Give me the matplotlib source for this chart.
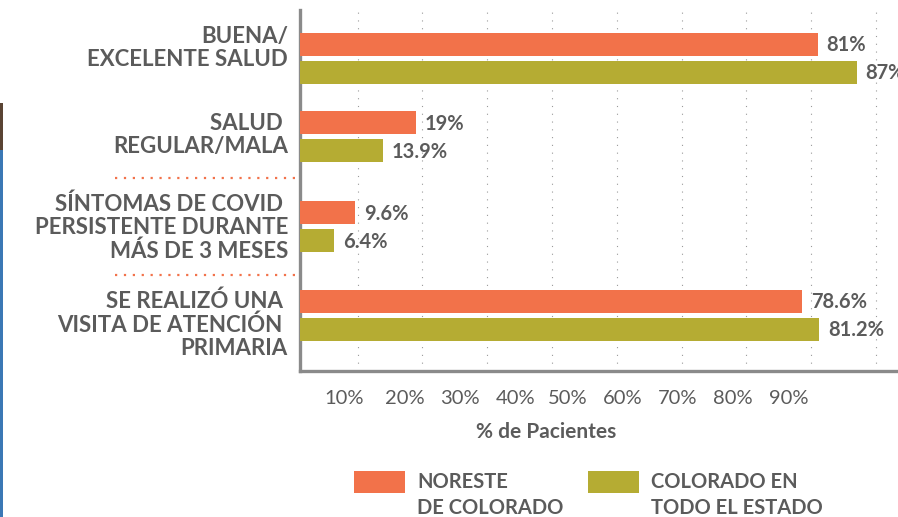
"""Horizontal grouped bars: patient health outcomes, Noreste vs statewide Colorado."""
import matplotlib
matplotlib.use("Agg")
import matplotlib.pyplot as plt
from matplotlib.patches import Rectangle
from matplotlib.lines import Line2D

# --- data -----------------------------------------------------------------
categories = [
    "BUENA/\nEXCELENTE SALUD",
    "SALUD \nREGULAR/MALA",
    "SÍNTOMAS DE COVID \nPERSISTENTE DURANTE\nMÁS DE 3 MESES",
    "SE REALIZÓ UNA \nVISITA DE ATENCIÓN \nPRIMARIA",
]
noreste = [81, 19, 9.6, 78.6]
estado = [87, 13.9, 6.4, 81.2]
noreste_txt = ["81%", "19%", "9.6%", "78.6%"]
estado_txt = ["87%", "13.9%", "6.4%", "81.2%"]
series_names = ["NORESTE\nDE COLORADO", "COLORADO EN\nTODO EL ESTADO"]
grid_vals = [10, 20, 30, 40, 50, 60, 70, 80, 90]
tick_text = ["10%", "20%", "30%", "40%", "50%", "60%", "70%", "80%", "90%"]

# --- style / layout -------------------------------------------------------
ORANGE = "#F2724A"
OLIVE = "#B5AC33"
GREY = "#5b5b5b"
SPINE = "#8a8a8a"
FONT = ["Lato", "DejaVu Sans"]
plt.rcParams["font.family"] = FONT

# the original infographic's tick labels sit left of their gridlines
tick_pos = [7.9, 17.3, 25.8, 34.3, 42.4, 50.9, 59.4, 67.9, 76.5]
group_y = [48.25, 126.5, 216.5, 305]      # pixel-ish units from axes top
label_y = [38, 125, 218, 315]
offset = 14
bar_h = 23

fig = plt.figure(figsize=(8.98, 5.17), dpi=100)
ax = fig.add_axes([300 / 898, 146 / 517, 598 / 898, 361 / 517])

ax.barh([g - offset for g in group_y], noreste, height=bar_h, color=ORANGE, zorder=3)
ax.barh([g + offset for g in group_y], estado, height=bar_h, color=OLIVE, zorder=3)

for g, v, t in zip(group_y, noreste, noreste_txt):
    ax.text(v + 1.4, g - offset + 1, t, ha="left", va="center", fontsize=14.5,
            fontweight="bold", color=GREY, zorder=4)
for g, v, t in zip(group_y, estado, estado_txt):
    ax.text(v + 1.4, g + offset + 1, t, ha="left", va="center", fontsize=14.5,
            fontweight="bold", color=GREY, zorder=4)

ax.set_xlim(1.1, 93.4)
ax.set_ylim(361, 0)

# dotted gridlines on minor ticks, labels on major ticks
ax.set_xticks(grid_vals, minor=True)
ax.set_xticks(tick_pos, tick_text)
ax.grid(which="minor", axis="x", color="#9a9a9a", linewidth=0.8,
        linestyle=(0, (1, 6)), zorder=0)
ax.tick_params(axis="x", which="both", length=0, pad=14, labelsize=14.5,
               labelcolor=GREY)
ax.set_yticks([])
for side in ("top", "right"):
    ax.spines[side].set_visible(False)
for side in ("left", "bottom"):
    ax.spines[side].set_color(SPINE)
    ax.spines[side].set_linewidth(2.4)

ax.set_xlabel("% de Pacientes", fontsize=15, fontweight="bold", color=GREY)
ax.xaxis.set_label_coords((546 - 300) / 598, -(432 - 371) / 361)
ax.xaxis.label.set_va("center")

# category labels, right-aligned left of the spine
for lab, y in zip(categories, label_y):
    ax.text(-12 / 598, y, lab, transform=ax.get_yaxis_transform(), ha="right",
            va="center", multialignment="right", fontsize=16,
            fontweight="bold", color=GREY, linespacing=1.12)

# orange dotted separators between the lower groups
for y in (178, 275):
    fig.add_artist(Line2D([115 / 898, 296 / 898], [1 - y / 517] * 2,
                          color=ORANGE, linewidth=1.6, linestyle=(0, (1, 3))))

# legend drawn by hand so the swatch aligns with the first text line
for x0, col, name in zip((354, 588), (ORANGE, OLIVE), series_names):
    fig.add_artist(Rectangle((x0 / 898, 1 - 493 / 517), 51 / 898, 22 / 517,
                             facecolor=col, edgecolor="none"))
    fig.text((x0 + 63) / 898, 1 - 472 / 517, name, ha="left", va="top",
             fontsize=14.5, fontweight="bold", color=GREY, linespacing=1.35)

# sliver of the page background visible at the far left
fig.add_artist(Rectangle((0, 0), 2.5 / 898, (517 - 150) / 517,
                         facecolor="#3b78b5", edgecolor="none"))
fig.add_artist(Rectangle((0, (517 - 150) / 517), 2.5 / 898, 47 / 517,
                         facecolor="#5a4434", edgecolor="none"))

fig.savefig("out.png", dpi=100)
